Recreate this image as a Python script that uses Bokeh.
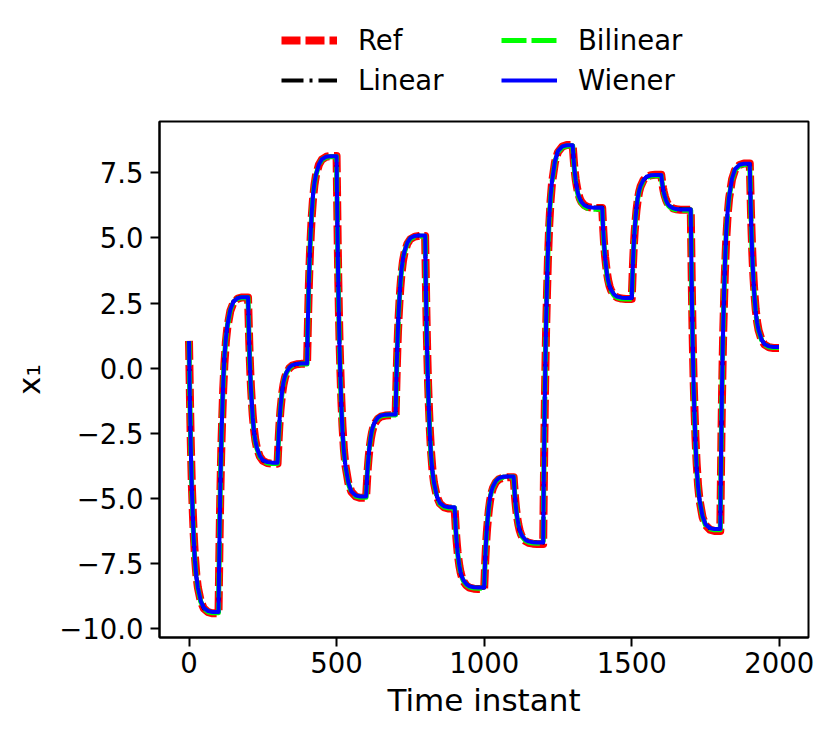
import numpy as np
from bokeh.plotting import figure
from bokeh.layouts import column
from bokeh.models import Legend, LegendItem, FixedTicker, Range1d
from bokeh.embed import file_html
from bokeh.resources import INLINE

# ---------------- data ----------------
segment_starts = [0, 100, 200, 300, 400, 500, 600, 700, 800, 900,
                  1000, 1100, 1200, 1300, 1400, 1500, 1600, 1700, 1800, 1900]
initial_value = 1.05

ref_levels = [-9.40, 2.72, -3.66, 0.17, 8.15, -4.97, -1.80, 5.08, -5.38, -8.47,
              -4.18, -6.74, 8.57, 6.15, 2.66, 7.43, 6.08, -6.24, 7.86, 0.78]
linear_levels = [-9.36, 2.74, -3.63, 0.18, 8.13, -4.93, -1.77, 5.10, -5.34, -8.42,
                 -4.15, -6.69, 8.55, 6.17, 2.70, 7.41, 6.10, -6.18, 7.84, 0.82]
bilinear_levels = [-9.38, 2.71, -3.65, 0.16, 8.12, -4.95, -1.79, 5.07, -5.36, -8.44,
                   -4.17, -6.71, 8.53, 6.10, 2.66, 7.39, 6.06, -6.20, 7.82, 0.80]
wiener_levels = [-9.35, 2.73, -3.62, 0.18, 8.14, -4.92, -1.77, 5.10, -5.33, -8.41,
                 -4.15, -6.68, 8.56, 6.16, 2.70, 7.42, 6.09, -6.17, 7.85, 0.82]

# step-response shape within each 100-sample segment (offset, completed fraction)
step_offsets = [0, 2, 4, 6, 8, 10, 13, 16, 20, 25, 30, 40, 50, 65, 80, 99]
ref_fraction = [0.0, 0.13, 0.26, 0.37, 0.46, 0.54, 0.63, 0.71, 0.79, 0.86, 0.905, 0.957, 0.982, 0.996, 1.0, 1.0]
model_fraction = [0.0, 0.15, 0.28, 0.39, 0.48, 0.56, 0.65, 0.73, 0.81, 0.87, 0.91, 0.96, 0.985, 0.997, 1.0, 1.0]

x_ticks = [0, 500, 1000, 1500, 2000]
x_tick_labels = ["0", "500", "1000", "1500", "2000"]
y_ticks = [-10.0, -7.5, -5.0, -2.5, 0.0, 2.5, 5.0, 7.5]
y_tick_labels = ["\u221210.0", "\u22127.5", "\u22125.0", "\u22122.5", "0.0", "2.5", "5.0", "7.5"]


def build(levels, fractions):
    xs, ys = [], []
    prev = initial_value
    for start, lvl in zip(segment_starts, levels):
        for o, f in zip(step_offsets, fractions):
            xs.append(start + o)
            ys.append(prev + (lvl - prev) * f)
        prev = lvl
    return xs, ys


FONT = "DejaVu Sans"
TOTAL_W = 824
TOTAL_H = 730
LEG_H = 110

# ---------------- main plot ----------------
p = figure(width=TOTAL_W, height=TOTAL_H - LEG_H, output_backend="svg", toolbar_location=None,
           x_range=Range1d(-99.95, 2098.95), y_range=Range1d(-10.33, 9.47),
           min_border_left=159, min_border_right=16, min_border_top=121 - LEG_H,
           min_border_bottom=93)
p.background_fill_color = "white"
p.border_fill_color = "white"
p.xgrid.visible = False
p.ygrid.visible = False
p.outline_line_color = "black"
p.outline_line_width = 2
p.outline_line_alpha = 1

# ---------------- legend strip (same line styles, data kept out of view) ----------------
lg = figure(width=TOTAL_W, height=LEG_H, output_backend="svg", toolbar_location=None,
            x_range=Range1d(-99.95, 2098.95), y_range=Range1d(100, 101),
            min_border_left=159, min_border_right=16,
            min_border_top=0, min_border_bottom=0)
lg.axis.visible = False
lg.grid.visible = False
lg.outline_line_color = None
lg.background_fill_color = "white"
lg.border_fill_color = "white"

series = [
    ("Ref", ref_levels, ref_fraction, dict(line_color="#ff0000", line_width=8, line_dash="19 5")),
    ("Linear", linear_levels, model_fraction, dict(line_color="black", line_width=4, line_dash="22 6 3 6")),
    ("Bilinear", bilinear_levels, model_fraction, dict(line_color="#00ff00", line_width=5, line_dash="25 5")),
    ("Wiener", wiener_levels, model_fraction, dict(line_color="#0000ff", line_width=4)),
]

items = []
for name, lv, fr, style in series:
    xs, ys = build(lv, fr)
    p.line(xs, ys, line_join="round", **style)
    r_leg = lg.line(xs, ys, **style)
    items.append(LegendItem(label=name, renderers=[r_leg]))

legend = Legend(items=items, orientation="vertical", ncols=2,
                location=(122, LEG_H - 96), padding=0, margin=0, spacing=8,
                glyph_width=56, glyph_height=28, label_height=28, label_width=135,
                label_standoff=21, border_line_color=None,
                background_fill_alpha=0,
                label_text_font=FONT, label_text_font_size="27.5px",
                label_text_color="black")
lg.add_layout(legend, "center")

p.xaxis.ticker = FixedTicker(ticks=x_ticks)
p.xaxis.major_label_overrides = {t: l for t, l in zip(x_ticks, x_tick_labels)}
p.yaxis.ticker = FixedTicker(ticks=y_ticks)
p.yaxis.major_label_overrides = {t: l for t, l in zip(y_ticks, y_tick_labels)}
p.xaxis.axis_label = "Time instant"
p.yaxis.axis_label = "x\u2081"

for ax in (p.xaxis[0], p.yaxis[0]):
    ax.axis_line_width = 2
    ax.axis_line_color = "black"
    ax.major_tick_line_width = 2
    ax.major_tick_line_color = "black"
    ax.major_tick_out = 9
    ax.major_tick_in = 0
    ax.minor_tick_out = 0
    ax.minor_tick_in = 0
    ax.major_label_text_font = FONT
    ax.major_label_text_font_size = "27.5px"
    ax.major_label_text_color = "black"
    ax.axis_label_text_font = FONT
    ax.axis_label_text_font_size = "31px"
    ax.axis_label_text_font_style = "normal"
    ax.axis_label_text_color = "black"

p.xaxis.major_label_standoff = 5
p.yaxis.major_label_standoff = 7
p.xaxis.axis_label_standoff = 6
p.yaxis.axis_label_standoff = 9

layout = column(lg, p, spacing=0)
open("out.html", "w").write(file_html(layout, INLINE))
